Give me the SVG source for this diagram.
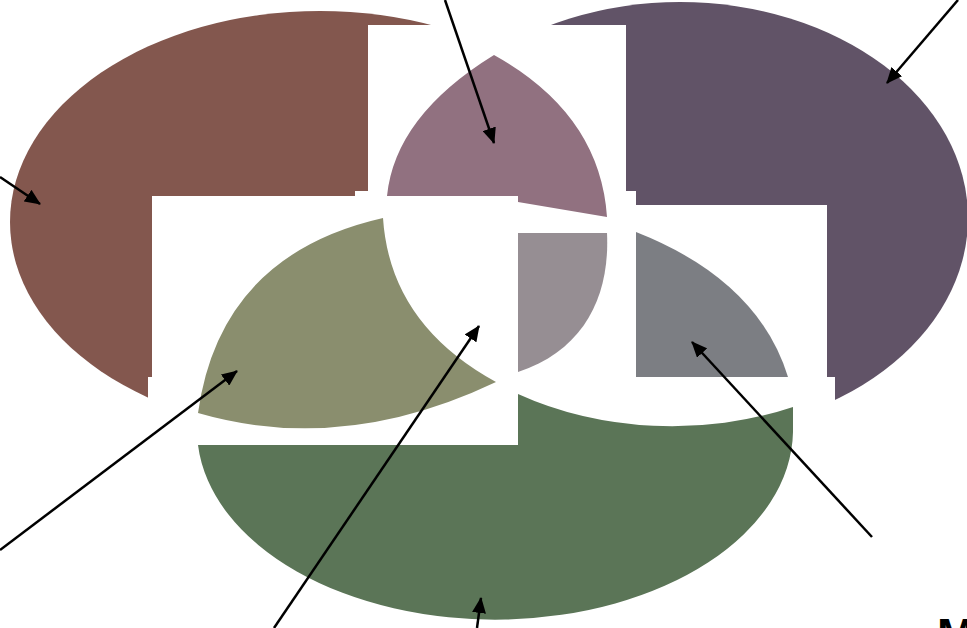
<svg xmlns="http://www.w3.org/2000/svg" width="967" height="628" viewBox="0 0 967 628">
<style>
.conn{stroke:#000;stroke-width:2.5;fill:none;marker-end:url(#ah)}
.lbl{font-family:"Liberation Sans",Arial,sans-serif;font-size:45px;font-weight:bold;fill:#000}
</style>
<defs>
<marker id="ah" viewBox="0 0 16 14" refX="15" refY="7" markerWidth="16" markerHeight="14" orient="auto" markerUnits="userSpaceOnUse"><path d="M0,0 L16,7 L0,14 Z" fill="#000"/></marker>
<clipPath id="cb"><polygon points="0,0 640,0 640,25 368,25 368,191 355,191 355,196 152,196 152,377 148,377 148,628 0,628"/></clipPath>
<clipPath id="cp"><polygon points="330,0 967,0 967,628 835,628 835,377 827,377 827,205 636,205 636,191 626,191 626,25 330,25"/></clipPath>
</defs>
<rect width="967" height="628" fill="#fff"/>
<g id="left-set"><ellipse cx="320" cy="222" rx="310" ry="211" fill="#83574E" clip-path="url(#cb)"/></g>
<g id="right-set"><ellipse cx="680" cy="218" rx="288" ry="216" fill="#615367" clip-path="url(#cp)"/></g>
<g id="bottom-set"><path d="M198,445 L518,445 L518,394 A290,211 0 0 0 793,407 L793,432 A298,190 0 0 1 198,445 Z" fill="#5B7557"/></g>
<g id="left-right"><path d="M494,55 Q600,114 607,217 L518,202 L518,196 L387,196 Q395,116 494,55 Z" fill="#917180"/></g>
<g id="left-bottom"><path d="M383,218 Q220,255 198,413 Q343,455 496,382 Q390,324 383,218 Z" fill="#8A8E6E"/></g>
<g id="center"><path d="M518,233 L607,233 C610,295 585,350 518,372 Z" fill="#968E93"/></g>
<g id="right-bottom"><path d="M636,232 Q758,280 788,377 L636,377 Z" fill="#7C7E83"/></g>
<g id="connectors">
<line class="conn" x1="445" y1="0" x2="494" y2="143"/>
<line class="conn" x1="958" y1="0" x2="887" y2="83"/>
<line class="conn" x1="0" y1="177" x2="40" y2="204"/>
<line class="conn" x1="0" y1="550" x2="237" y2="371"/>
<line class="conn" x1="274" y1="628" x2="479" y2="326"/>
<line class="conn" x1="872" y1="537" x2="692" y2="342"/>
<line class="conn" x1="477" y1="628" x2="481" y2="598"/>
</g>
<text class="lbl" x="937" y="650">M</text>
</svg>
